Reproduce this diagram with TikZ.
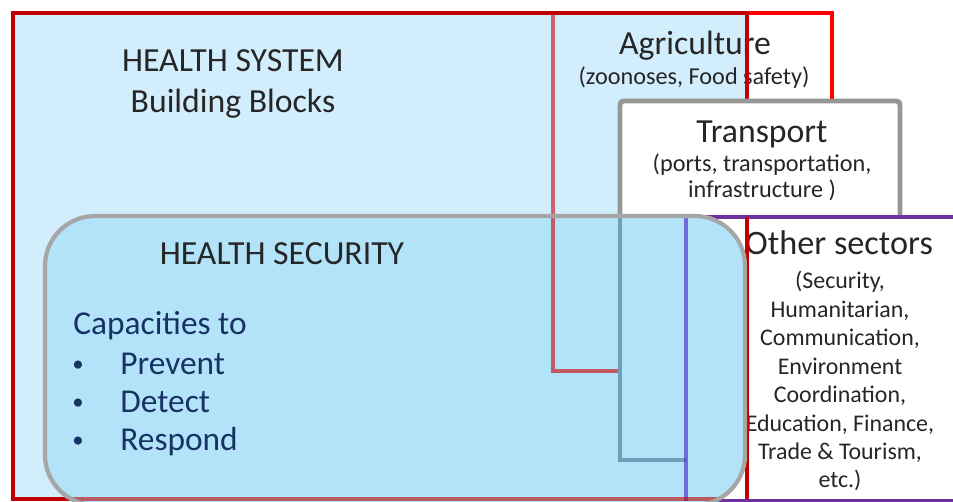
\documentclass[tikz,border=0pt]{standalone}
\usepackage{fontspec}
\setmainfont{Carlito}
\usepackage{xcolor}
\usepackage{tikz}
\usetikzlibrary{positioning}
\definecolor{hsysred}{RGB}{192,0,0}
\definecolor{agrired}{RGB}{255,0,0}
\definecolor{hsysfill}{RGB}{155,215,246}
\definecolor{hsecblue}{RGB}{179,227,249}
\definecolor{trangray}{RGB}{150,150,150}
\definecolor{tranmuted}{RGB}{110,158,184}
\definecolor{othpurple}{RGB}{112,48,160}
\definecolor{hsecgray}{RGB}{166,166,166}
\definecolor{capnavy}{RGB}{24,50,100}
\tikzstyle{bigtxt}=[font=\fontsize{19.2}{23.5}\selectfont, text=black!85, align=center, inner sep=0pt]
\tikzstyle{smalltxt}=[font=\fontsize{13.8}{15}\selectfont, text=black!85, align=center, inner sep=0pt]
\tikzstyle{captxt}=[font=\fontsize{19}{22}\selectfont, text=capnavy, inner sep=0pt]
\tikzset{agribox/.style={draw=agrired, line width=2.3pt},
         hsysbox/.style={draw=hsysred, line width=2.8pt},
         tranbox/.style={draw=trangray, fill=white, line width=2.8pt, rounded corners=2pt},
         othbox/.style={draw=othpurple, fill=white, line width=2pt},
         hsecbox/.style={draw=hsecgray, line width=2.4pt, rounded corners=1cm}}
\begin{document}
\begin{tikzpicture}[x=0.02cm, y=-0.02cm]

  \useasboundingbox (0,0) rectangle (953,502);
  \clip (0,0) rectangle (953,502);

  % corners of the boxes
  \coordinate (hsys-nw) at (13,13);   \coordinate (hsys-se) at (747,499);
  \coordinate (agri-nw) at (553,13);  \coordinate (agri-se) at (832,371);
  \coordinate (tran-nw) at (620,101); \coordinate (tran-se) at (900,460);
  \coordinate (oth-nw) at (686,217);  \coordinate (oth-se) at (975,501);
  \coordinate (hsec-nw) at (45,216);  \coordinate (hsec-se) at (745,505);

  % agriculture and health system
  \draw[agribox] (agri-nw) rectangle (agri-se);
  \fill[hsysfill, fill opacity=0.45] (hsys-nw) rectangle (hsys-se);
  \node[bigtxt, anchor=base] (hsystitle) at (233,113) {HEALTH SYSTEM\\Building Blocks};
  \node[bigtxt, anchor=base] (agrititle) at (695,55) {Agriculture};
  \node[smalltxt, anchor=base] (agrinote) at (694,85) {(zoonoses, Food safety)};
  \draw[hsysbox] (hsys-nw) rectangle (hsys-se);

  % transport
  \filldraw[tranbox] (tran-nw) rectangle (tran-se);
  \node[bigtxt, anchor=base] (trantitle) at (762,143) {Transport};
  \node[smalltxt, anchor=base] (trannote) at (762,198) {(ports, transportation,\\infrastructure )};

  % other sectors
  \filldraw[othbox] (oth-nw) rectangle (oth-se);
  \node[bigtxt, anchor=base, font=\fontsize{19.5}{23.5}\selectfont] (othtitle) at (839,255) {Other sectors};
  \node[smalltxt, anchor=base, font=\fontsize{13.6}{16.2}\selectfont] (othnote) at (840,488)
    {(Security,\\Humanitarian,\\Communication,\\Environment\\Coordination,\\Education, Finance,\\Trade \& Tourism,\\etc.)};
  \draw[hsysbox] (hsys-se |- oth-nw) -- (hsys-se);

  % health security
  \fill[hsecblue, rounded corners=1cm] (hsec-nw) rectangle (hsec-se);
  \begin{scope}
    \clip[rounded corners=1cm] (hsec-nw) rectangle (hsec-se);
    \draw[agribox, draw=agrired!80!black, draw opacity=0.6] (agri-nw) -- (agri-nw |- agri-se) -- (tran-nw |- agri-se);
    \draw[draw=tranmuted, line width=2.8pt] (tran-nw) -- (tran-nw |- tran-se) -- (oth-nw |- tran-se);
    \draw[othbox, fill=none, draw=othpurple!60!blue, draw opacity=0.6] (oth-nw) -- (oth-nw |- oth-se);
    \draw[hsysbox, draw opacity=0.6] (hsys-nw |- hsys-se) -- (hsys-se);
  \end{scope}
  \draw[hsecbox] (hsec-nw) rectangle (hsec-se);

  \node[bigtxt, anchor=base] (hsectitle) at (282,265) {HEALTH SECURITY};
  \node[captxt, anchor=base west] (captitle) at (73,335) {Capacities to};
  \foreach \y/\name/\word in {375/prev/Prevent, 413/dete/Detect, 451/resp/Respond} {
    \node[captxt, anchor=base, font=\fontsize{13}{15}\selectfont] (\name-dot) at (78,\y-3) {\textbullet};
    \node[captxt, anchor=base west] (\name) at (120,\y) {\word};
  }

\end{tikzpicture}
\end{document}
